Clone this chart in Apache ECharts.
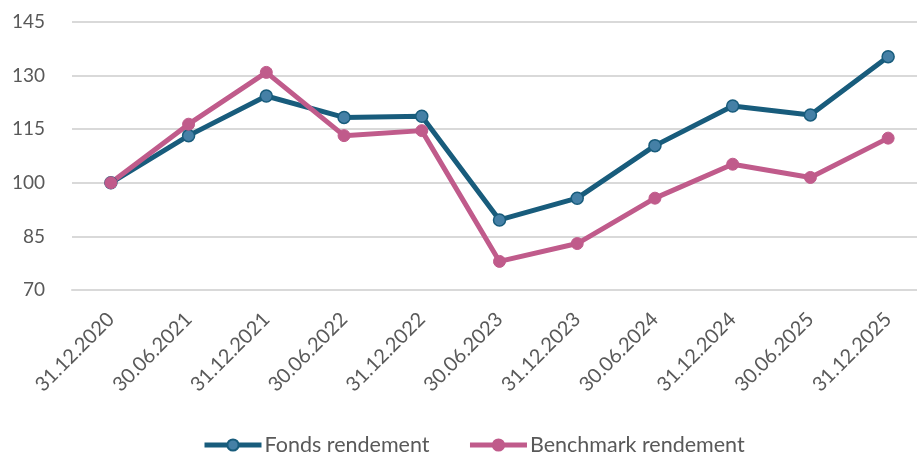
<!DOCTYPE html>
<html>
<head>
<meta charset="utf-8">
<script src="https://cdn.jsdelivr.net/npm/echarts@6/dist/echarts.min.js"></script>
<style>
  html, body { margin: 0; padding: 0; background: #fff; }
  #chart { width: 917px; height: 454px; }
</style>
</head>
<body>
<div id="chart"></div>
<script>
const categories = ['31.12.2020', '30.06.2021', '31.12.2021', '30.06.2022', '31.12.2022', '30.06.2023',
  '31.12.2023', '30.06.2024', '31.12.2024', '30.06.2025', '31.12.2025'];
const fondsRendement = [100, 113.2, 124.3, 118.3, 118.6, 89.6, 95.7, 110.4, 121.5, 119.0, 135.3];
const benchmarkRendement = [100, 116.4, 130.9, 113.2, 114.6, 78.0, 83.0, 95.7, 105.2, 101.5, 112.5];

const chart = echarts.init(document.getElementById('chart'));
const textColor = '#595959';
const fontFamily = 'Lato, "Liberation Sans", sans-serif';

chart.setOption({
  animation: false,
  textStyle: { fontFamily: fontFamily },
  grid: { left: 72, right: -10, top: 22, bottom: 164, containLabel: false, outerBoundsMode: 'none' },
  legend: {
    top: 429,
    left: 197,
    itemWidth: 57,
    itemHeight: 14,
    itemGap: 38,
    lineStyle: { width: 5 },
    textStyle: { color: textColor, fontSize: 21.5, fontFamily: fontFamily, padding: [0, 0, 0, -2] }
  },
  xAxis: {
    type: 'category',
    data: categories,
    boundaryGap: true,
    axisLine: { lineStyle: { color: '#d9d9d9', width: 2 } },
    axisTick: { show: false },
    axisLabel: { rotate: 45, color: textColor, fontSize: 20, margin: 26 }
  },
  yAxis: {
    type: 'value',
    min: 70,
    max: 145,
    interval: 15,
    axisLine: { show: false },
    axisTick: { show: false },
    axisLabel: { color: textColor, fontSize: 19, margin: 27 },
    splitLine: { lineStyle: { color: '#d9d9d9', width: 2 } }
  },
  series: [
    {
      name: 'Fonds rendement',
      type: 'line',
      data: fondsRendement,
      symbol: 'circle',
      symbolSize: 12,
      lineStyle: { color: '#185c7c', width: 5 },
      itemStyle: { color: '#4580a6', borderColor: '#185c7c', borderWidth: 1.5 }
    },
    {
      name: 'Benchmark rendement',
      type: 'line',
      data: benchmarkRendement,
      symbol: 'circle',
      symbolSize: 12,
      lineStyle: { color: '#c05b8b', width: 5 },
      itemStyle: { color: '#c05b8b', borderColor: '#c05b8b', borderWidth: 1 }
    }
  ]
});
</script>
</body>
</html>
